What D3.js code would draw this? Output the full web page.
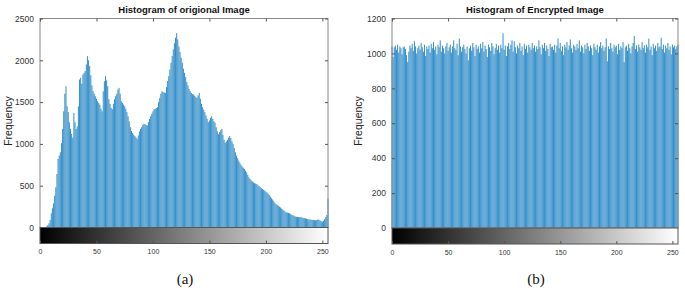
<!DOCTYPE html>
<meta charset="utf-8">
<style>
body { margin: 0; background: #fff; }
svg { display: block; }
.tick text { font-family: "Liberation Sans", Arial, sans-serif; fill: #333; }
.title { font-family: "Liberation Sans", Arial, sans-serif; font-weight: bold; font-size: 9.5px; fill: #111; }
.ylab { font-family: "Liberation Sans", Arial, sans-serif; font-size: 10.5px; fill: #222; }
.cap { font-family: "Liberation Serif", "DejaVu Serif", serif; font-size: 15px; fill: #111; }
</style>
<svg width="685" height="290"></svg>
<script src="https://d3js.org/d3.v7.min.js"></script>
<script>

// grey levels 0..255
var levels = d3.range(256);

// histogram of original image
var origCounts = [
  0, 0, 0, 0, 0, 5, 15, 30, 50, 90, 170, 230, 290, 380, 480, 640,
  820, 860, 900, 1010, 1180, 1390, 1600, 1690, 1450, 1380, 1260, 1180, 1120, 1075, 1370, 1260,
  1180, 1210, 1450, 1770, 1790, 1720, 1830, 1850, 1870, 1950, 2050, 2000, 1930, 1820, 1700, 1630,
  1600, 1570, 1540, 1510, 1490, 1470, 1420, 1390, 1630, 1750, 1810, 1760, 1690, 1535, 1480, 1430,
  1415, 1480, 1535, 1570, 1600, 1650, 1670, 1600, 1510, 1490, 1470, 1450, 1420, 1380, 1330, 1270,
  1200, 1155, 1130, 1110, 1095, 1080, 1060, 1100, 1150, 1180, 1200, 1225, 1240, 1235, 1225, 1220,
  1260, 1300, 1330, 1360, 1390, 1415, 1420, 1430, 1440, 1500, 1550, 1600, 1630, 1620, 1615, 1610,
  1680, 1750, 1810, 1890, 1970, 2050, 2130, 2205, 2270, 2325, 2250, 2165, 2100, 2030, 1970, 1900,
  1850, 1800, 1740, 1700, 1660, 1630, 1610, 1595, 1590, 1575, 1560, 1550, 1580, 1610, 1540, 1480,
  1440, 1410, 1380, 1340, 1300, 1260, 1280, 1310, 1330, 1300, 1270, 1255, 1200, 1150, 1115, 1140,
  1165, 1180, 1110, 1050, 1015, 1030, 1050, 1075, 1095, 1070, 1030, 1000, 950, 900, 860, 830,
  800, 775, 750, 730, 715, 700, 680, 660, 630, 600, 580, 565, 550, 540, 530, 525,
  520, 505, 495, 480, 470, 460, 450, 440, 430, 420, 405, 390, 370, 350, 335, 315,
  295, 280, 270, 260, 250, 240, 225, 215, 205, 190, 180, 178, 175, 170, 160, 150,
  145, 140, 132, 128, 125, 125, 122, 125, 120, 115, 112, 110, 105, 100, 95, 98,
  95, 90, 92, 88, 85, 90, 95, 92, 85, 75, 70, 80, 100, 125, 150, 345
];

// histogram of encrypted image
var encCounts = [
  1040, 980, 1035, 1045, 1020, 1050, 1005, 1040, 1030, 995, 1035, 1040, 1025, 990, 950, 1010,
  1045, 1030, 1055, 1015, 1070, 1040, 1000, 1030, 1045, 1020, 1060, 1035, 1010, 1050, 985, 1040,
  1025, 1045, 1005, 1055, 1030, 1065, 1020, 1040, 995, 1050, 1035, 1075, 1010, 1045, 1030, 1000,
  1040, 1060, 1015, 1035, 1050, 1005, 1040, 1075, 1030, 1020, 1055, 990, 1085, 1040, 1010, 1035,
  1050, 1025, 1000, 1040, 960, 1030, 1045, 1015, 1060, 1035, 985, 1050, 1025, 1040, 1005, 1055,
  1030, 1065, 1010, 1045, 1025, 980, 1050, 1035, 1015, 1060, 1040, 995, 1030, 1055, 1020, 1045,
  1005, 1050, 1030, 1115, 1020, 1045, 985, 1040, 1060, 1025, 1050, 1075, 1010, 1070, 1035, 1000,
  1045, 1030, 1060, 1015, 1040, 990, 1055, 1025, 1045, 1005, 1050, 1035, 1020, 1060, 1030, 1045,
  1010, 1040, 1025, 1075, 1035, 995, 1050, 1030, 1060, 1015, 1045, 1025, 985, 1055, 1035, 1040,
  1020, 1050, 1005, 1045, 1085, 1030, 1060, 1015, 1040, 990, 1050, 1035, 1065, 1020, 1045, 1080,
  1030, 1005, 1050, 1040, 1020, 1055, 1030, 1075, 1010, 1045, 1035, 1000, 1050, 1025, 1060, 1040,
  1015, 1045, 1030, 990, 1055, 1035, 1020, 1050, 1005, 1040, 1065, 1030, 1045, 1015, 1035, 1085,
  955, 1040, 1025, 1060, 1030, 1010, 1050, 1035, 1045, 995, 1055, 1020, 1040, 1030, 1065, 950,
  1035, 1045, 1015, 1055, 1030, 1000, 1040, 1060, 1100, 1025, 1045, 1010, 1050, 1035, 1020, 1065,
  1030, 1045, 1005, 1050, 1035, 1085, 1020, 1040, 990, 1055, 1030, 1045, 1015, 1060, 1035, 1040,
  1090, 1025, 1050, 1005, 1045, 1030, 1060, 1020, 1040, 995, 1050, 1035, 1045, 1025, 1040, 1050
];

var xTicks = [0, 50, 100, 150, 200, 250];
var origYTicks = [0, 500, 1000, 1500, 2000, 2500];
var encYTicks = [0, 200, 400, 600, 800, 1000, 1200];

var svg = d3.select("svg");

// one imhist-style panel: stems + grey colorbar below
function panel(opt) {
  var g = svg.append("g");
  var x = d3.scaleLinear().domain([0, 255]).range([opt.left, opt.right]);
  var y = d3.scaleLinear().domain([0, opt.ymax]).range([opt.y0, opt.top]);
  var cbBottom = opt.y0 + 16;

  // stems
  g.append("g").selectAll("line")
    .data(levels)
    .enter().append("line")
    .attr("x1", d => x(d)).attr("x2", d => x(d))
    .attr("y1", y(0)).attr("y2", d => y(opt.counts[d]))
    .attr("stroke", "#0072BD")
    .attr("stroke-width", 0.8);

  // axes box
  g.append("rect")
    .attr("x", opt.left).attr("y", opt.top)
    .attr("width", opt.right - opt.left).attr("height", opt.y0 - opt.top)
    .attr("fill", "none").attr("stroke", "#8a8a8a").attr("stroke-width", 1);

  var yl = g.append("g").attr("transform", "translate(" + opt.left + ",0)")
    .call(d3.axisLeft(y).tickValues(opt.yticks).tickSize(-3).tickPadding(6).tickFormat(d3.format("d")));
  yl.select(".domain").remove();
  yl.selectAll(".tick line").attr("stroke", "#555");
  yl.selectAll(".tick text").style("font-size", "8.5px");

  var yr = g.append("g").attr("transform", "translate(" + opt.right + ",0)")
    .call(d3.axisRight(y).tickValues(opt.yticks).tickSize(-3).tickFormat(""));
  yr.select(".domain").remove();
  yr.selectAll(".tick line").attr("stroke", "#555");

  var xt = g.append("g").attr("transform", "translate(0," + opt.top + ")")
    .call(d3.axisTop(x).tickValues(xTicks).tickSize(-3).tickFormat(""));
  xt.select(".domain").remove();
  xt.selectAll(".tick line").attr("stroke", "#555");

  // grey colorbar
  var gid = "grad" + opt.id;
  var grad = svg.append("defs").append("linearGradient").attr("id", gid);
  grad.append("stop").attr("offset", "0%").attr("stop-color", "#000");
  grad.append("stop").attr("offset", "100%").attr("stop-color", "#fff");
  g.append("rect")
    .attr("x", opt.left).attr("y", opt.y0)
    .attr("width", opt.right - opt.left).attr("height", cbBottom - opt.y0)
    .attr("fill", "url(#" + gid + ")")
    .attr("stroke", "#555").attr("stroke-width", 1);

  var xb = g.append("g").attr("transform", "translate(0," + cbBottom + ")")
    .call(d3.axisBottom(x).tickValues(xTicks).tickSize(-3).tickPadding(6));
  xb.select(".domain").remove();
  xb.selectAll(".tick line").attr("stroke", "#555");
  xb.selectAll(".tick text").style("font-size", "7px");

  g.append("text").attr("class", "title")
    .attr("x", (opt.left + opt.right) / 2).attr("y", 13)
    .attr("text-anchor", "middle").text(opt.title);

  g.append("text").attr("class", "ylab")
    .attr("transform", "translate(" + opt.ylabX + ",121) rotate(-90)")
    .attr("text-anchor", "middle").text("Frequency");

  g.append("text").attr("class", "cap")
    .attr("x", (opt.left + opt.right) / 2 + 1).attr("y", 284)
    .attr("text-anchor", "middle").text(opt.caption);
}

panel({ id: "a", counts: origCounts, ymax: 2500, yticks: origYTicks,
  left: 40, right: 328, top: 18.5, y0: 227.5, ylabX: 12,
  title: "Histogram of origional Image", caption: "(a)" });

panel({ id: "b", counts: encCounts, ymax: 1200, yticks: encYTicks,
  left: 392, right: 678, top: 18.5, y0: 228, ylabX: 362,
  title: "Histogram of Encrypted Image", caption: "(b)" });

</script>
